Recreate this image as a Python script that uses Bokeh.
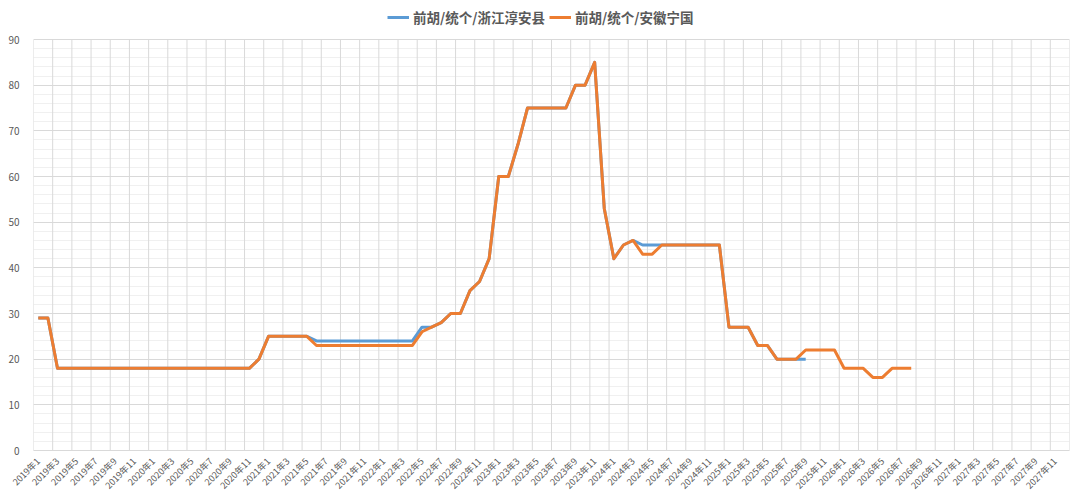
from bokeh.plotting import figure
from bokeh.models import (Range1d, FixedTicker, Legend, LegendItem)
from bokeh.embed import file_html
from bokeh.resources import INLINE
import math

# ---- data ----
months = [f"{y}年{m}" for y in range(2019, 2028) for m in range(1, 13)]

series_names = ["前胡/统个/浙江淳安县", "前胡/统个/安徽宁国"]

zhejiang_chunan = [
    29, 29, 18, 18, 18, 18, 18, 18, 18, 18, 18, 18,
    18, 18, 18, 18, 18, 18, 18, 18, 18, 18, 18, 20,
    25, 25, 25, 25, 25, 24, 24, 24, 24, 24, 24, 24,
    24, 24, 24, 24, 27, 27, 28, 30, 30, 35, 37, 42,
    60, 60, 67, 75, 75, 75, 75, 75, 80, 80, 85, 53,
    42, 45, 46, 45, 45, 45, 45, 45, 45, 45, 45, 45,
    27, 27, 27, 23, 23, 20, 20, 20, 20,
]

anhui_ningguo = [
    29, 29, 18, 18, 18, 18, 18, 18, 18, 18, 18, 18,
    18, 18, 18, 18, 18, 18, 18, 18, 18, 18, 18, 20,
    25, 25, 25, 25, 25, 23, 23, 23, 23, 23, 23, 23,
    23, 23, 23, 23, 26, 27, 28, 30, 30, 35, 37, 42,
    60, 60, 67, 75, 75, 75, 75, 75, 80, 80, 85, 53,
    42, 45, 46, 43, 43, 45, 45, 45, 45, 45, 45, 45,
    27, 27, 27, 23, 23, 20, 20, 20, 22, 22, 22, 22,
    18, 18, 18, 16, 16, 18, 18, 18,
]

y_ticks = [0, 10, 20, 30, 40, 50, 60, 70, 80, 90]
y_minor = list(range(0, 91, 2))

colors = ["#5B9BD5", "#ED7D31"]
label_color = "#595959"
grid_color = "#d9d9d9"
font = "Noto Sans CJK SC"

n = len(months)
y_max = y_ticks[-1]
frame_h = 450          # frame spans legend strip + plot area
plot_h = 411           # height of the 0..90 value area
y_top = y_max * frame_h / plot_h

p = figure(width=1080, height=500, output_backend="svg", toolbar_location=None,
           x_range=Range1d(-0.5, n - 0.5), y_range=Range1d(0, y_top),
           min_border_left=33, min_border_right=11, min_border_top=0, min_border_bottom=50)
p.outline_line_color = None
p.background_fill_color = "white"
p.border_fill_color = "white"

# x axis: labels at odd months
tick_idx = list(range(0, n, 2))
p.xaxis.ticker = FixedTicker(ticks=tick_idx)
p.xaxis.major_label_overrides = {i: months[i] for i in tick_idx}
p.xaxis.major_label_orientation = math.pi / 4
p.xaxis.major_label_text_font = font
p.xaxis.major_label_text_font_size = "9px"
p.xaxis.major_label_text_color = label_color
p.xaxis.major_tick_line_color = None
p.xaxis.minor_tick_line_color = None
p.xaxis.axis_line_color = grid_color
p.xaxis.major_label_standoff = 3
p.xgrid.visible = False

# vertical grid lines at category boundaries every 2 months, limited to the value area
bounds = [k - 0.5 for k in range(0, n + 1, 2)]
p.segment(x0=bounds, y0=[0] * len(bounds), x1=bounds, y1=[y_max] * len(bounds),
          line_color=grid_color, line_width=1)

# y axis
p.yaxis.ticker = FixedTicker(ticks=y_ticks, minor_ticks=y_minor)
p.yaxis.major_label_text_font = font
p.yaxis.major_label_text_font_size = "10px"
p.yaxis.major_label_text_color = label_color
p.yaxis.major_tick_line_color = None
p.yaxis.minor_tick_line_color = None
p.yaxis.axis_line_color = None
p.yaxis.major_label_standoff = 8
p.ygrid.grid_line_color = grid_color
p.ygrid.minor_grid_line_color = "#f0f0f0"

r1 = p.line(list(range(len(zhejiang_chunan))), zhejiang_chunan, line_color=colors[0],
            line_width=3, line_join="round")
r2 = p.line(list(range(len(anhui_ningguo))), anhui_ningguo, line_color=colors[1],
            line_width=3, line_join="round")

legend = Legend(items=[LegendItem(label=series_names[0], renderers=[r1]),
                       LegendItem(label=series_names[1], renderers=[r2])],
                orientation="horizontal", location=(354, 423),
                label_text_font=font, label_text_font_size="13.5px",
                label_text_font_style="bold", label_text_color=label_color,
                border_line_color=None, background_fill_alpha=0,
                glyph_width=22, glyph_height=14, spacing=4, padding=2, margin=0,
                label_standoff=4)
p.add_layout(legend, "center")

open("out.html", "w").write(file_html(p, INLINE))
